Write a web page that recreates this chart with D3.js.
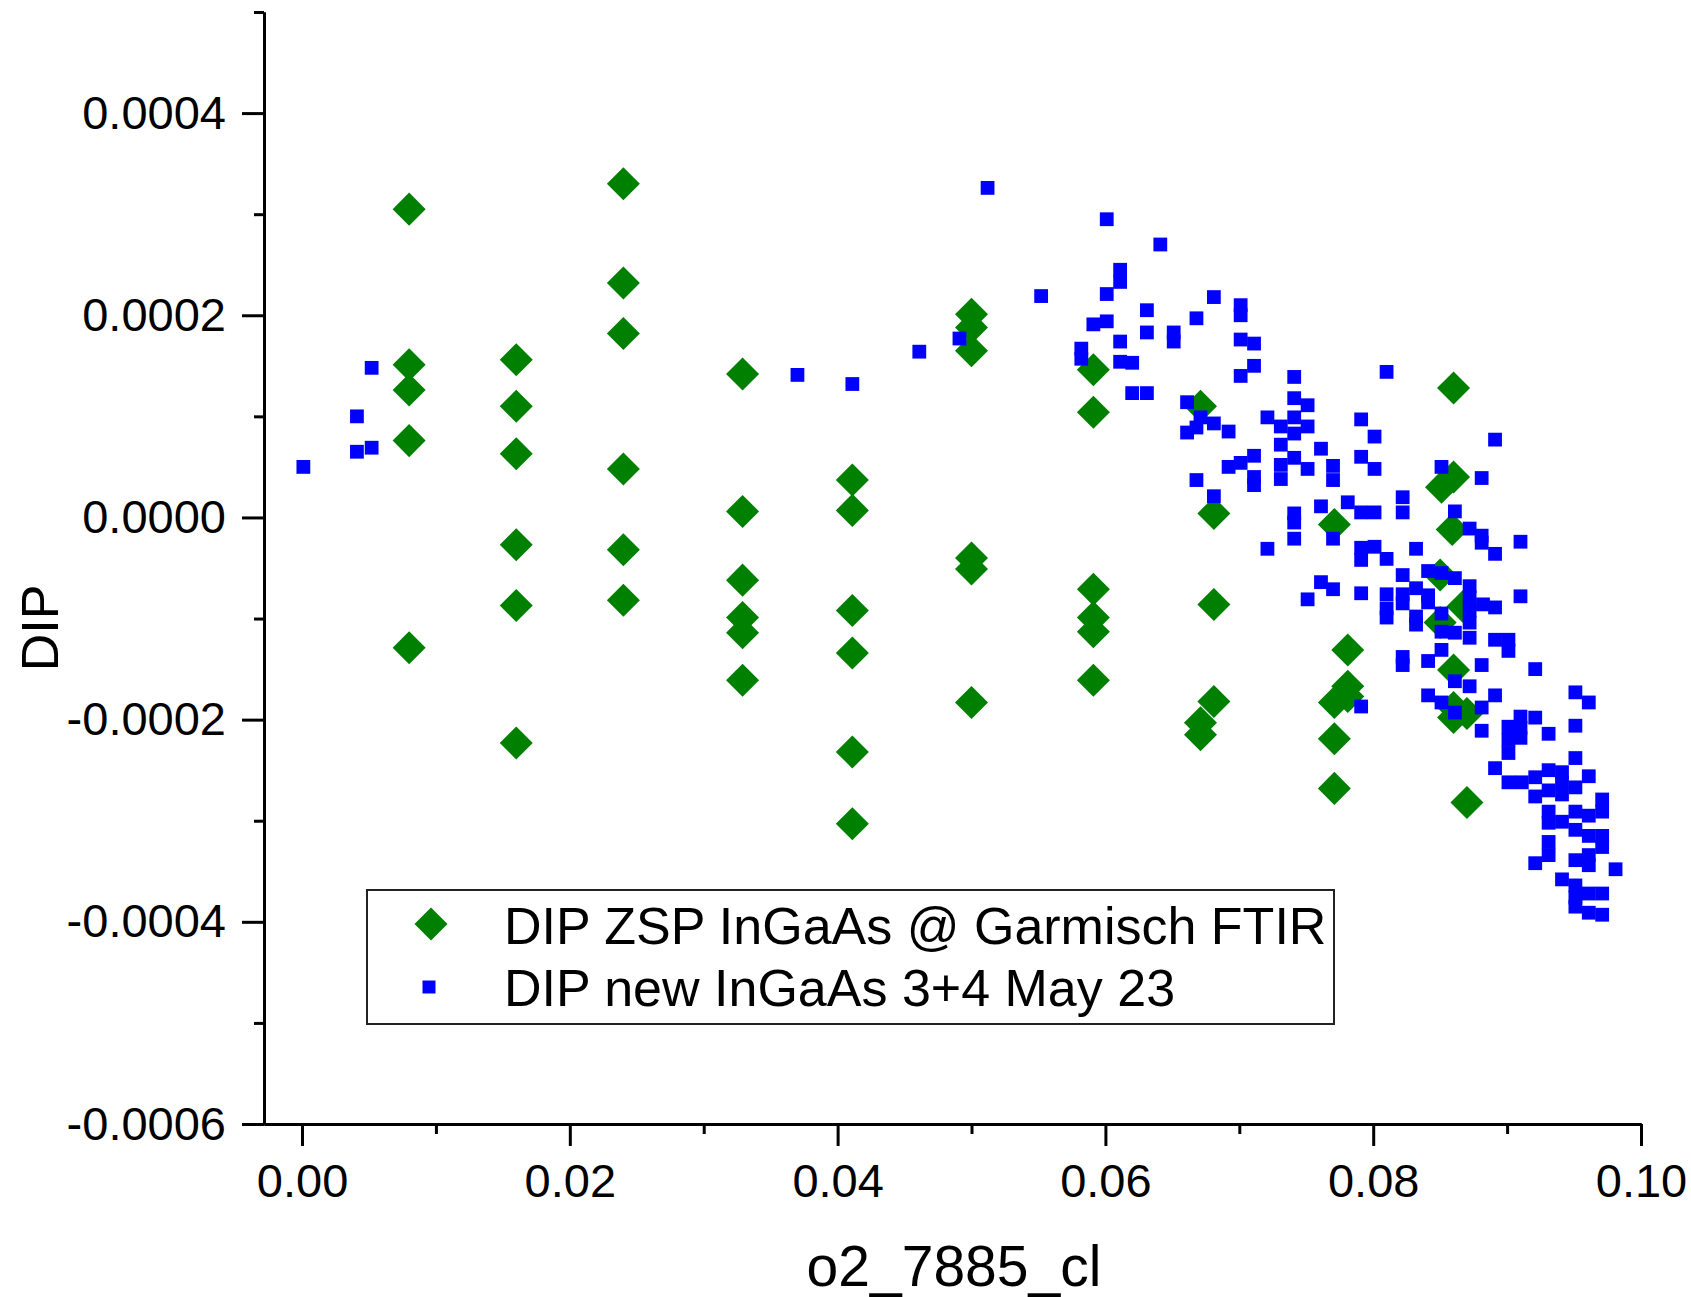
<html>
<head>
<script src="https://d3js.org/d3.v7.min.js"></script>
<style>
  body { margin: 0; background: #fff; }
</style>
</head>
<body>
<div id="chart"></div>
<script>

// data: DIP ZSP InGaAs @ Garmisch FTIR (green diamonds)
const zspX = [
  0.0080, 0.0080, 0.0080, 0.0080, 0.0080,
  0.0160, 0.0160, 0.0160, 0.0160, 0.0160, 0.0160,
  0.0240, 0.0240, 0.0240, 0.0240, 0.0240, 0.0240,
  0.0329, 0.0329, 0.0329, 0.0329, 0.0329, 0.0329,
  0.0411, 0.0411, 0.0411, 0.0411, 0.0411, 0.0411,
  0.0500, 0.0500, 0.0500, 0.0500, 0.0500, 0.0500,
  0.0591, 0.0591, 0.0591, 0.0591, 0.0591, 0.0591,
  0.0671, 0.0671, 0.0671,
  0.0681, 0.0681, 0.0681,
  0.0771, 0.0771, 0.0771, 0.0771,
  0.0781, 0.0781, 0.0781,
  0.0860, 0.0860, 0.0851, 0.0859, 0.0850, 0.0867, 0.0850, 0.0860, 0.0860, 0.0870, 0.0860, 0.0870
];
const zspY = [
  0.000305, 0.000151, 0.000126, 0.000076, -0.000129,
  0.000156, 0.000110, 0.000063, -0.000027, -0.000087, -0.000223,
  0.000330, 0.000232, 0.000182, 0.000048, -0.000032, -0.000082,
  0.000142, 0.000006, -0.000062, -0.000099, -0.000114, -0.000161,
  0.000037, 0.000007, -0.000092, -0.000134, -0.000232, -0.000303,
  0.000201, 0.000188, 0.000165, -0.000040, -0.000051, -0.000183,
  0.000146, 0.000104, -0.000071, -0.000099, -0.000113, -0.000161,
  0.000110, -0.000203, -0.000215,
  0.000004, -0.000086, -0.000182,
  -0.000007, -0.000183, -0.000219, -0.000268,
  -0.000131, -0.000167, -0.000177,
  0.000128, 0.000040, 0.000030, -0.000012, -0.000057, -0.000088, -0.000104, -0.000151, -0.000188, -0.000194, -0.000198, -0.000282
];

// data: DIP new InGaAs 3+4 May 23 (blue squares)
const newX = [
  0.0001, 0.0041, 0.0041, 0.0052, 0.0052, 0.0370, 0.0411, 0.0461, 0.0491, 0.0512,
  0.0552, 0.0601, 0.0641, 0.0611, 0.0611, 0.0601, 0.0631, 0.0668, 0.0591, 0.0601,
  0.0611, 0.0631, 0.0651, 0.0651, 0.0582, 0.0582, 0.0611, 0.0620, 0.0620, 0.0631,
  0.0661, 0.0661, 0.0668, 0.0668, 0.0681, 0.0701, 0.0701, 0.0701, 0.0711, 0.0711,
  0.0701, 0.0741, 0.0810, 0.0671, 0.0681, 0.0692, 0.0741, 0.0751, 0.0721, 0.0741,
  0.0751, 0.0731, 0.0741, 0.0791, 0.0801, 0.0731, 0.0761, 0.0711, 0.0701, 0.0692,
  0.0741, 0.0751, 0.0731, 0.0731, 0.0711, 0.0711, 0.0770, 0.0770, 0.0791, 0.0801,
  0.0681, 0.0851, 0.0761, 0.0781, 0.0791, 0.0801, 0.0822, 0.0822, 0.0741, 0.0741,
  0.0741, 0.0770, 0.0721, 0.0791, 0.0801, 0.0791, 0.0810, 0.0832, 0.0822, 0.0761,
  0.0770, 0.0751, 0.0791, 0.0810, 0.0810, 0.0822, 0.0832, 0.0841, 0.0832, 0.0851,
  0.0841, 0.0851, 0.0881, 0.0861, 0.0872, 0.0881, 0.0881, 0.0891, 0.0910, 0.0910,
  0.0861, 0.0872, 0.0822, 0.0841, 0.0810, 0.0832, 0.0851, 0.0872, 0.0872, 0.0872,
  0.0872, 0.0882, 0.0891, 0.0861, 0.0851, 0.0891, 0.0901, 0.0901, 0.0822, 0.0822,
  0.0841, 0.0881, 0.0921, 0.0861, 0.0872, 0.0841, 0.0851, 0.0891, 0.0791, 0.0861,
  0.0881, 0.0881, 0.0910, 0.0921, 0.0901, 0.0910, 0.0910, 0.0901, 0.0931, 0.0951,
  0.0961, 0.0951, 0.0901, 0.0951, 0.0891, 0.0901, 0.0911, 0.0921, 0.0921, 0.0931,
  0.0941, 0.0941, 0.0931, 0.0941, 0.0951, 0.0961, 0.0971, 0.0971, 0.0931, 0.0931,
  0.0941, 0.0951, 0.0951, 0.0961, 0.0961, 0.0971, 0.0971, 0.0931, 0.0931, 0.0921,
  0.0951, 0.0961, 0.0961, 0.0981, 0.0941, 0.0951, 0.0951, 0.0961, 0.0951, 0.0961,
  0.0971, 0.0971, 0.0891
];
const newY = [
  0.000050, 0.000100, 0.000065, 0.000069, 0.000148, 0.000141, 0.000132, 0.000164, 0.000177, 0.000326,
  0.000219, 0.000295, 0.000270, 0.000245, 0.000233, 0.000221, 0.000205, 0.000197, 0.000191, 0.000194,
  0.000174, 0.000183, 0.000183, 0.000174, 0.000167, 0.000157, 0.000154, 0.000153, 0.000123, 0.000123,
  0.000114, 0.000084, 0.000089, 0.000037, 0.000218, 0.000210, 0.000200, 0.000176, 0.000172, 0.000150,
  0.000140, 0.000139, 0.000144, 0.000099, 0.000093, 0.000085, 0.000118, 0.000111, 0.000099, 0.000099,
  0.000090, 0.000090, 0.000083, 0.000097, 0.000080, 0.000072, 0.000068, 0.000061, 0.000054, 0.000050,
  0.000059, 0.000048, 0.000052, 0.000038, 0.000040, 0.000032, 0.000051, 0.000037, 0.000060, 0.000048,
  0.000021, 0.000050, 0.000011, 0.000015, 0.000005, 0.000005, 0.000020, 0.000005, 0.000004, -0.000005,
  -0.000021, -0.000021, -0.000031, -0.000030, -0.000029, -0.000042, -0.000041, -0.000031, -0.000057, -0.000064,
  -0.000071, -0.000081, -0.000075, -0.000076, -0.000090, -0.000076, -0.000070, -0.000077, -0.000098, -0.000055,
  -0.000053, -0.000095, 0.000039, 0.000006, -0.000011, -0.000018, -0.000025, -0.000036, -0.000024, -0.000078,
  -0.000060, -0.000068, -0.000085, -0.000084, -0.000099, -0.000106, -0.000113, -0.000079, -0.000092, -0.000104,
  -0.000119, -0.000086, -0.000089, -0.000114, -0.000131, -0.000121, -0.000121, -0.000132, -0.000138, -0.000146,
  -0.000142, -0.000146, -0.000150, -0.000162, -0.000167, -0.000176, -0.000183, -0.000176, -0.000187, -0.000193,
  -0.000188, -0.000211, -0.000197, -0.000198, -0.000207, -0.000208, -0.000218, -0.000220, -0.000214, -0.000173,
  -0.000183, -0.000206, -0.000233, -0.000238, -0.000248, -0.000262, -0.000262, -0.000257, -0.000276, -0.000250,
  -0.000252, -0.000262, -0.000270, -0.000274, -0.000267, -0.000256, -0.000279, -0.000291, -0.000291, -0.000302,
  -0.000301, -0.000291, -0.000309, -0.000295, -0.000315, -0.000315, -0.000326, -0.000321, -0.000334, -0.000342,
  -0.000339, -0.000334, -0.000344, -0.000348, -0.000358, -0.000364, -0.000376, -0.000372, -0.000385, -0.000391,
  -0.000372, -0.000393, 0.000077
];

// ticks and labels
const xMajor = [0, 0.02, 0.04, 0.06, 0.08, 0.10];
const xMinor = [0.01, 0.03, 0.05, 0.07, 0.09];
const yMajor = [-0.0006, -0.0004, -0.0002, 0, 0.0002, 0.0004];
const yMinor = [-0.0005, -0.0003, -0.0001, 0.0001, 0.0003, 0.0005];
const seriesNames = ['DIP ZSP InGaAs @ Garmisch FTIR', 'DIP new InGaAs 3+4 May 23'];
const xTitle = 'o2_7885_cl';
const yTitle = 'DIP';

// constants
const canvas = [1691, 1297];
const margin = {top: 12, left: 264, right: 50, bottom: 173};
const font = '"Liberation Sans", Arial, sans-serif';
const green = '#008000';
const blue = '#0000ff';

const svg = d3.select('#chart').append('svg')
  .attr('width', canvas[0])
  .attr('height', canvas[1])
  .style('display', 'block')
  .style('background', '#fff');

const x = d3.scaleLinear().domain([-0.00284, 0.1]).range([margin.left, canvas[0] - margin.right]);
const y = d3.scaleLinear().domain([-0.0006, 0.0005]).range([canvas[1] - margin.bottom, margin.top]);

const styleAxis = g => {
  g.attr('font-family', font).attr('font-size', 47);
  g.selectAll('.domain').attr('stroke', '#000').attr('stroke-width', 3);
  g.selectAll('.tick line').attr('stroke', '#000').attr('stroke-width', 3);
  g.selectAll('.tick text').attr('fill', '#000');
};

// minor ticks
svg.append('g')
  .attr('transform', `translate(0, ${y.range()[0]})`)
  .call(d3.axisBottom(x).tickValues(xMinor).tickSize(10).tickSizeOuter(0).tickFormat(''))
  .call(styleAxis);
svg.append('g')
  .attr('transform', `translate(${x.range()[0]}, 0)`)
  .call(d3.axisLeft(y).tickValues(yMinor).tickSize(10).tickSizeOuter(0).tickFormat(''))
  .call(styleAxis);

// major ticks
svg.append('g')
  .attr('transform', `translate(0, ${y.range()[0]})`)
  .call(d3.axisBottom(x).tickValues(xMajor).tickSize(22).tickSizeOuter(0).tickPadding(18)
    .tickFormat(d => d.toFixed(2)))
  .call(styleAxis);
svg.append('g')
  .attr('transform', `translate(${x.range()[0]}, 0)`)
  .call(d3.axisLeft(y).tickValues(yMajor).tickSize(22).tickSizeOuter(0).tickPadding(16)
    .tickFormat(d => d.toFixed(4)))
  .call(styleAxis);

// axis titles
svg.append('text')
  .attr('transform', `translate(58, 628) rotate(-90)`)
  .attr('text-anchor', 'middle')
  .attr('font-family', font)
  .attr('font-size', 52)
  .text(yTitle);
svg.append('text')
  .attr('x', 954)
  .attr('y', 1286)
  .attr('text-anchor', 'middle')
  .attr('font-family', font)
  .attr('font-size', 57)
  .text(xTitle);

// points
const diamond = d3.symbol(d3.symbolSquare, 545);
const square = d3.symbol(d3.symbolSquare, 190);

svg.append('g').selectAll('path')
  .data(zspX.map((v, i) => [v, zspY[i]]))
  .join('path')
  .attr('d', diamond)
  .attr('transform', d => `translate(${x(d[0])}, ${y(d[1])}) rotate(45)`)
  .attr('fill', green);

svg.append('g').selectAll('path')
  .data(newX.map((v, i) => [v, newY[i]]))
  .join('path')
  .attr('d', square)
  .attr('transform', d => `translate(${x(d[0])}, ${y(d[1])})`)
  .attr('fill', blue);

// legend
const legend = svg.append('g').attr('transform', 'translate(367, 890)');
legend.append('rect')
  .attr('width', 967)
  .attr('height', 134)
  .attr('fill', '#fff')
  .attr('stroke', '#222')
  .attr('stroke-width', 2);
legend.append('path')
  .attr('d', diamond)
  .attr('transform', 'translate(64, 34) rotate(45)')
  .attr('fill', green);
legend.append('path')
  .attr('d', d3.symbol(d3.symbolSquare, 169))
  .attr('transform', 'translate(62, 97)')
  .attr('fill', blue);
seriesNames.forEach((name, i) => {
  legend.append('text')
    .attr('x', 137)
    .attr('y', 54 + i * 62)
    .attr('font-family', font)
    .attr('font-size', 52)
    .text(name);
});

</script>
</body>
</html>
